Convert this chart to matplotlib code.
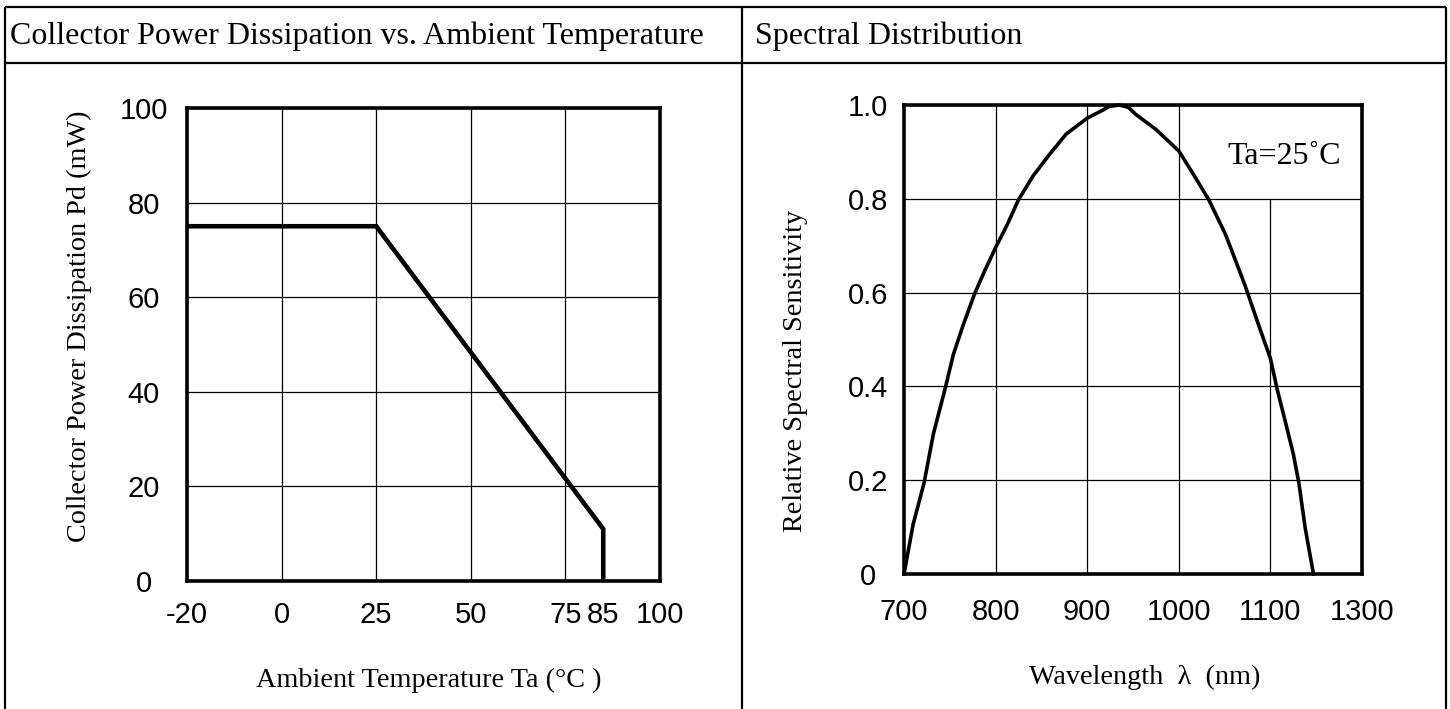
import numpy as np
import matplotlib
matplotlib.use("Agg")
import matplotlib.pyplot as plt
from matplotlib.lines import Line2D
from matplotlib.scale import FuncScale

# ---------------- data ----------------
# Left chart: collector power dissipation vs ambient temperature
temp_grid = [-20, 0, 25, 50, 75, 100]          # gridline ticks (equally spaced on chart)
temp_extra_tick = [85]                          # labelled tick without gridline
temp = [-20, 25, 85, 85]
power = [75, 75, 11, 0]
power_ticks = [0, 20, 40, 60, 80, 100]

# Right chart: spectral distribution
wl = [700, 710, 722, 732, 745, 754, 765, 777, 788, 800, 812, 825, 841, 859,
      877, 900, 917, 924, 935, 945, 953, 975, 1000, 1016, 1033, 1051, 1072,
      1088, 1100, 1107, 1116, 1125, 1131, 1138, 1147]
sens = [0.0, 0.106, 0.195, 0.298, 0.396, 0.469, 0.533, 0.597, 0.646, 0.696,
        0.742, 0.798, 0.849, 0.895, 0.938, 0.972, 0.989, 0.997, 1.0, 0.995,
        0.98, 0.948, 0.902, 0.852, 0.797, 0.724, 0.617, 0.526, 0.46, 0.397,
        0.327, 0.256, 0.195, 0.098, 0.0]
wl_ticks = [700, 800, 900, 1000, 1100, 1200]
wl_tick_labels = ['700', '800', '900', '1000', '1100', '1300']
sens_ticks = [0, 0.2, 0.4, 0.6, 0.8, 1.0]
sens_tick_labels = ['0', '0.2', '0.4', '0.6', '0.8', '1.0']

title_left = "Collector Power Dissipation vs. Ambient Temperature"
title_right = "Spectral Distribution"

# ---------------- figure ----------------
W, H = 1450, 709
fig = plt.figure(figsize=(W / 100, H / 100), dpi=100)
fig.patch.set_facecolor('white')

def fx(px):
    return px / W

def fy(py):
    return 1 - py / H

def pt(px):
    return px * 0.72

SERIF = ['Liberation Serif', 'DejaVu Serif']
SANS = ['Liberation Sans', 'DejaVu Sans']
TICK_FS = 21
LABEL_FS = 20.3

# table lines
tbl_lw = 1.6
for (x0, y0, x1, y1) in [
        (5, 6.5, 1446, 6.5),      # top
        (5, 63, 1446, 63),        # header separator
        (5, 6.5, 5, H),           # left
        (1446, 6.5, 1446, H),     # right
        (742, 6.5, 742, H)]:      # column separator
    fig.add_artist(Line2D([fx(x0), fx(x1)], [fy(y0), fy(y1)],
                          color='black', lw=tbl_lw, solid_capstyle='butt'))

fig.text(fx(10), fy(36), title_left, family=SERIF, fontsize=23,
         ha='left', va='center')
fig.text(fx(755), fy(36), title_right, family=SERIF, fontsize=23,
         ha='left', va='center')

# ---------------- left chart ----------------
axL = fig.add_axes([fx(187), fy(581), fx(660) - fx(187), fy(108) - fy(581)])
pos = np.arange(len(temp_grid), dtype=float)
fwd = lambda v: np.interp(v, temp_grid, pos)
inv = lambda v: np.interp(v, pos, temp_grid)
axL.set_xscale(FuncScale(axL, (fwd, inv)))
axL.set_xlim(temp_grid[0], temp_grid[-1])
axL.set_ylim(power_ticks[0], power_ticks[-1])
axL.set_xticks(temp_grid)
axL.set_xticklabels([str(t) for t in temp_grid])
axL.set_xticks(temp_extra_tick, minor=True)
axL.set_xticklabels([str(t) for t in temp_extra_tick], minor=True)
axL.set_yticks(power_ticks)
axL.set_yticklabels([str(p) for p in power_ticks])
axL.grid(True, which='major', color='black', lw=0.9)
axL.set_axisbelow(True)
axL.plot(temp, power, color='black', lw=3.3, solid_joinstyle='miter',
         solid_capstyle='butt', zorder=3)
for s in axL.spines.values():
    s.set_linewidth(2.6)
axL.tick_params(axis='both', which='both', length=0)
axL.tick_params(axis='x', which='both', pad=pt(34))
axL.tick_params(axis='y', which='both', pad=pt(43))
for lab in axL.get_xticklabels(which='both'):
    lab.set_fontfamily(SANS); lab.set_fontsize(TICK_FS); lab.set_va('center')
for lab in axL.get_yticklabels():
    lab.set_fontfamily(SANS); lab.set_fontsize(TICK_FS); lab.set_ha('center')
axL.text((79 - 187) / 473, (581 - 326) / 473, "Collector Power Dissipation Pd (mW)",
         transform=axL.transAxes, rotation=90, ha='center', va='center',
         family=SERIF, fontsize=LABEL_FS)
axL.text((429 - 187) / 473, (581 - 680) / 473, "Ambient Temperature Ta (°C )",
         transform=axL.transAxes, ha='center', va='center',
         family=SERIF, fontsize=LABEL_FS)

# ---------------- right chart ----------------
axR = fig.add_axes([fx(904), fy(574), fx(1362) - fx(904), fy(105) - fy(574)])
axR.set_xlim(wl_ticks[0], wl_ticks[-1])
axR.set_ylim(sens_ticks[0], sens_ticks[-1])
axR.set_xticks(wl_ticks)
axR.set_xticklabels(wl_tick_labels)
axR.set_yticks(sens_ticks)
axR.set_yticklabels(sens_tick_labels)
axR.grid(True, axis='y', color='black', lw=0.9)
inner = wl_ticks[1:-1]
tops = [sens_ticks[-1]] * (len(inner) - 1) + [sens_ticks[-2]]
axR.vlines(inner, sens_ticks[0], tops, color='black', lw=0.9, zorder=1)
axR.set_axisbelow(True)
axR.plot(wl, sens, color='black', lw=2.6, solid_joinstyle='round', zorder=3,
         clip_on=False)
for s in axR.spines.values():
    s.set_linewidth(2.6)
axR.tick_params(axis='both', length=0)
axR.tick_params(axis='x', pad=pt(38))
axR.tick_params(axis='y', pad=pt(36))
for lab in axR.get_xticklabels():
    lab.set_fontfamily(SANS); lab.set_fontsize(TICK_FS); lab.set_va('center')
for lab in axR.get_yticklabels():
    lab.set_fontfamily(SANS); lab.set_fontsize(TICK_FS); lab.set_ha('center')
axR.text((795 - 904) / 458, (574 - 371) / 469, "Relative Spectral Sensitivity",
         transform=axR.transAxes, rotation=90, ha='center', va='center',
         family=SERIF, fontsize=LABEL_FS)
axR.text((1145 - 904) / 458, (574 - 677) / 469, "Wavelength  λ  (nm)",
         transform=axR.transAxes, ha='center', va='center',
         family=SERIF, fontsize=LABEL_FS)
axR.text((1284 - 904) / 458, (574 - 156) / 469, "Ta=25˚C",
         transform=axR.transAxes, ha='center', va='center',
         family=SERIF, fontsize=23)

fig.savefig("out.png", dpi=100)
